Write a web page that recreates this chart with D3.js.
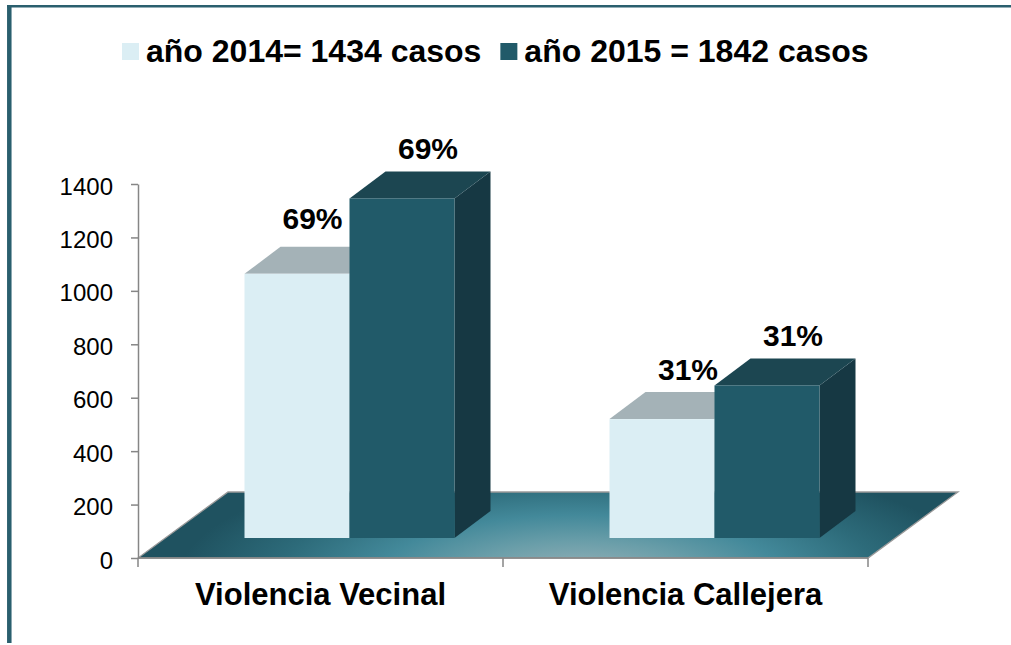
<!DOCTYPE html>
<html>
<head>
<meta charset="utf-8">
<script src="https://cdn.jsdelivr.net/npm/d3@7"></script>
<style>
  body { margin: 0; background: #fff; }
  text { font-family: "Liberation Sans", Arial, sans-serif; fill: #000; }
</style>
</head>
<body>
<div id="chart"></div>
<script>
// data
var categories = ["Violencia Vecinal", "Violencia Callejera"];
var series = ["año 2014= 1434 casos", "año 2015 = 1842 casos"];
var values2014 = [989, 445];
var values2015 = [1271, 571];
var pctLabels2014 = ["69%", "31%"];
var pctLabels2015 = ["69%", "31%"];
var yTicks = [0, 200, 400, 600, 800, 1000, 1200, 1400];

var W = 1011, H = 645;
var svg = d3.select("#chart").append("svg").attr("width", W).attr("height", H);

var faces = [
    {front: "#dbeef4", top: "#a4b2b7", side: "#8fa2a8"},
    {front: "#215a69", top: "#1c4651", side: "#163843"}
];

// frame
svg.append("line").attr("x1", 7).attr("x2", W).attr("y1", 6.2).attr("y2", 6.2)
    .attr("stroke", "#2a5f6e").attr("stroke-width", 2.5);
svg.append("line").attr("x1", 9.3).attr("x2", 9.3).attr("y1", 5).attr("y2", 643)
    .attr("stroke", "#2a5f6e").attr("stroke-width", 4.5);

var y = d3.scaleLinear().domain([0, 1400]).range([558, 184]);
var x = d3.scaleBand().domain(categories).range([138, 868]);
var xs = d3.scaleBand().domain(series).range([0, 210]);

var floorDepth = {dx: 90, dy: -66};
var barShift = {dx: 29, dy: -20};   // bars sit inside the floor
var barDepth = {dx: 36, dy: -27};

// floor gradient
var defs = svg.append("defs");
var grad = defs.append("radialGradient").attr("id", "floorGrad")
    .attr("gradientUnits", "userSpaceOnUse")
    .attr("cx", 580).attr("cy", 575).attr("r", 400)
    .attr("gradientTransform", "translate(580,575) scale(1,0.3) translate(-580,-575)");
[[0, "#9ab3b9"], [0.28, "#6a9ea9"], [0.5, "#43899a"], [0.75, "#2d6b7a"], [1, "#1f5260"]]
    .forEach(function(s){ grad.append("stop").attr("offset", s[0]).attr("stop-color", s[1]); });

var fx0 = x.range()[0], fx1 = x.range()[1], fy = y(0);
svg.append("path")
    .attr("d", "M" + fx0 + "," + fy + "L" + fx1 + "," + fy +
        "L" + (fx1 + floorDepth.dx) + "," + (fy + floorDepth.dy) +
        "L" + (fx0 + floorDepth.dx) + "," + (fy + floorDepth.dy) + "Z")
    .attr("fill", "url(#floorGrad)")
    .attr("stroke", "#9a9a9a").attr("stroke-width", 1.3);

// y axis
var yAxis = svg.append("g").attr("transform", "translate(138,0)")
    .call(d3.axisLeft(y).tickValues(yTicks).tickFormat(d3.format("d"))
        .tickSize(7).tickSizeOuter(0).tickPadding(18));
yAxis.select(".domain").attr("stroke", "#868686").attr("stroke-width", 1.5);
yAxis.selectAll(".tick line").attr("stroke", "#868686").attr("stroke-width", 1.5);
yAxis.selectAll(".tick text").attr("font-size", 24).attr("dy", "0.42em")
    .style("font-family", "'Liberation Sans', Arial, sans-serif");

// x axis: front edge of floor plus ticks at band edges
var xAxis = svg.append("g");
xAxis.append("line").attr("x1", fx0).attr("x2", fx1).attr("y1", fy).attr("y2", fy)
    .attr("stroke", "#868686").attr("stroke-width", 1.5);
var edges = categories.map(function(c){ return x(c); }).concat([fx1]);
xAxis.selectAll(".xt").data(edges).enter().append("line")
    .attr("x1", function(d){ return d; }).attr("x2", function(d){ return d; })
    .attr("y1", fy).attr("y2", fy + 9)
    .attr("stroke", "#868686").attr("stroke-width", 1.5);
xAxis.selectAll(".xl").data(categories).enter().append("text")
    .attr("x", function(d){ return x(d) + x.bandwidth() / 2; })
    .attr("y", 605)
    .attr("text-anchor", "middle")
    .attr("font-size", 31).attr("font-weight", "bold")
    .text(function(d){ return d; });

// bars
var bars = [];
categories.forEach(function(c, i){
    [values2014[i], values2015[i]].forEach(function(v, s){
        var x0 = x(c) + x.bandwidth() / 2 - xs.range()[1] / 2 + xs(series[s]) + barShift.dx;
        bars.push({cat: i, s: s, v: v, x0: x0, x1: x0 + xs.bandwidth(),
            yb: y(0) + barShift.dy, yt: y(v) + barShift.dy,
            label: s === 0 ? pctLabels2014[i] : pctLabels2015[i]});
    });
});

var gBars = svg.append("g");
bars.forEach(function(b){
    var g = gBars.append("g");
    var dx = barDepth.dx, dy = barDepth.dy, f = faces[b.s];
    g.append("path").attr("fill", f.side)
        .attr("d", "M" + b.x1 + "," + b.yt + "L" + (b.x1 + dx) + "," + (b.yt + dy) +
            "L" + (b.x1 + dx) + "," + (b.yb + dy) + "L" + b.x1 + "," + b.yb + "Z");
    g.append("path").attr("fill", f.top)
        .attr("d", "M" + b.x0 + "," + b.yt + "L" + b.x1 + "," + b.yt +
            "L" + (b.x1 + dx) + "," + (b.yt + dy) + "L" + (b.x0 + dx) + "," + (b.yt + dy) + "Z");
    g.append("rect").attr("fill", f.front)
        .attr("x", b.x0).attr("y", b.yt)
        .attr("width", b.x1 - b.x0).attr("height", b.yb - b.yt);
});

// value labels, nudged left when they would run into the next (taller) bar
var labelW = 62;
bars.forEach(function(b, k){
    var cx = (b.x0 + b.x1) / 2 + 26, by = b.yt - 39;
    var nb = bars[k + 1];
    if (nb && nb.cat === b.cat && by > nb.yt && cx + labelW / 2 > nb.x0 - 4) {
        cx = nb.x0 - 6 - labelW / 2;
        by -= 6;
    }
    svg.append("text").attr("x", cx).attr("y", by)
        .attr("text-anchor", "middle")
        .attr("font-size", 30).attr("font-weight", "bold")
        .text(b.label);
});

// legend
var leg = svg.append("g");
var lx = 122;
series.forEach(function(s, i){
    leg.append("rect").attr("x", lx).attr("y", 43).attr("width", 17).attr("height", 17)
        .attr("fill", faces[i].front);
    var t = leg.append("text").attr("x", lx + 24).attr("y", 62)
        .attr("font-size", 32).attr("font-weight", "bold").text(s);
    lx += 24 + t.node().getComputedTextLength() + 19;
});
</script>
</body>
</html>
